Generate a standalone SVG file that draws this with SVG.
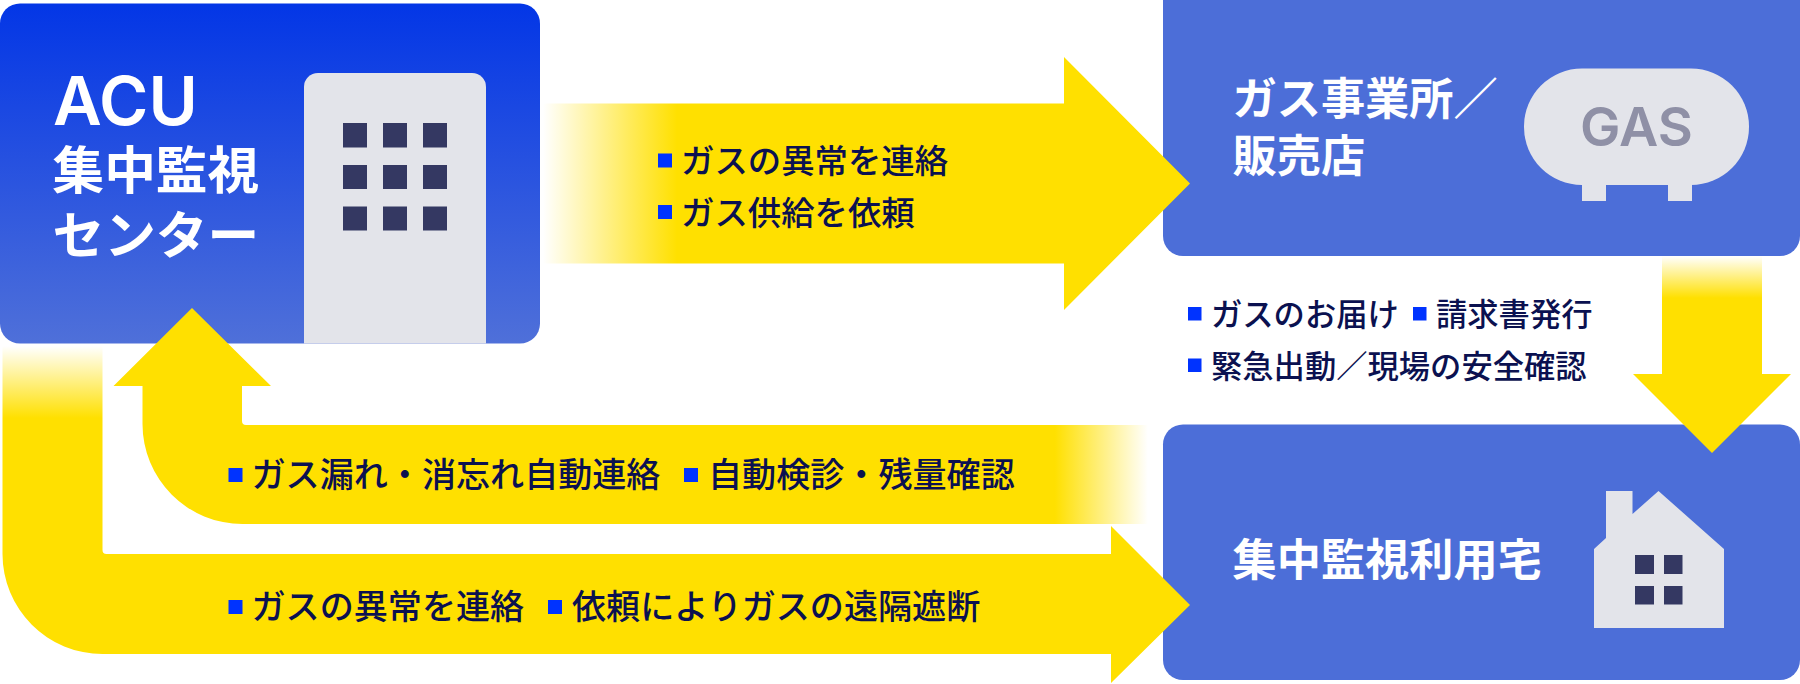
<svg xmlns="http://www.w3.org/2000/svg" width="1800" height="684" viewBox="0 0 1800 684">
<style>
.box{fill:#4c6ed8}
.lg{fill:#e3e4ea}
.win{fill:#343862}
.b{fill:#0033ff}
text{font-family:"Noto Sans CJK JP","Liberation Sans",sans-serif}
.t{fill:#fff;font-weight:700;font-size:44.200px}
.l{fill:#0b1150;font-weight:500;font-size:31.300px}
.m{fill:#0b1150;font-weight:500;font-size:33.400px}
.n{fill:#0b1150;font-weight:500;font-size:34.100px}
</style>
<defs>
<linearGradient id="acu" x1="0" y1="0" x2="0" y2="1"><stop offset="0" stop-color="#0336e6"/><stop offset="1" stop-color="#4f70d9"/></linearGradient>
<linearGradient id="fr" gradientUnits="userSpaceOnUse" x1="543" y1="0" x2="677" y2="0"><stop offset="0" stop-color="#ffe000" stop-opacity="0"/><stop offset="1" stop-color="#ffe000"/></linearGradient>
<linearGradient id="fd" gradientUnits="userSpaceOnUse" x1="0" y1="256" x2="0" y2="298"><stop offset="0" stop-color="#ffe000" stop-opacity="0"/><stop offset="1" stop-color="#ffe000"/></linearGradient>
<linearGradient id="fl" gradientUnits="userSpaceOnUse" x1="1148" y1="0" x2="1055" y2="0"><stop offset="0" stop-color="#ffe000" stop-opacity="0"/><stop offset="1" stop-color="#ffe000"/></linearGradient>
<linearGradient id="fu" gradientUnits="userSpaceOnUse" x1="0" y1="346" x2="0" y2="418"><stop offset="0" stop-color="#ffe000" stop-opacity="0"/><stop offset="1" stop-color="#ffe000"/></linearGradient>
</defs>
<g id="node-acu">
<rect x="0" y="3.500" width="540" height="340" rx="20" fill="url(#acu)"/>
<path class="lg" d="M304 343.500V87a14 14 0 0 1 14-14H472a14 14 0 0 1 14 14V343.500Z"/>
<g class="win"><rect x="343" y="123" width="24" height="24.500"/><rect x="383" y="123" width="24" height="24.500"/><rect x="423" y="123" width="24" height="24.500"/><rect x="343" y="165" width="24" height="24"/><rect x="383" y="165" width="24" height="24"/><rect x="423" y="165" width="24" height="24"/><rect x="343" y="206.500" width="24" height="24"/><rect x="383" y="206.500" width="24" height="24"/><rect x="423" y="206.500" width="24" height="24"/></g>
<text x="53" y="124.500" fill="#fff" font-weight="600" style="font-family:Inter,'Liberation Sans',sans-serif;font-size:67px">ACU</text>
<text x="52.500" y="189" fill="#fff" font-weight="700" font-size="51.700">集中監視</text>
<text x="52.500" y="254" fill="#fff" font-weight="700" font-size="51.700">センター</text>
</g>
<g id="node-gas">
<rect x="1163" y="-20" width="637" height="276" rx="20" class="box"/>
<rect x="1582" y="184" width="24" height="17" class="lg"/><rect x="1668" y="184" width="24" height="17" class="lg"/>
<rect x="1524" y="68.500" width="225" height="116.500" rx="58" ry="58" class="lg"/>
<text x="1636.500" y="145.500" text-anchor="middle" fill="#8f90a6" font-weight="600" font-size="54" style="font-family:Inter,'Liberation Sans',sans-serif">GAS</text>
<text x="1232.500" y="115" class="t">ガス事業所／</text>
<text x="1232.500" y="172" class="t">販売店</text>
</g>
<g id="node-home">
<rect x="1163" y="424.500" width="637" height="255.500" rx="20" class="box"/>
<path class="lg" d="M1594 628V549L1606 538V491H1632.500V514L1658.500 491L1724 549V628Z"/>
<g class="win"><rect x="1635" y="555" width="19" height="19"/><rect x="1664" y="555" width="18.500" height="19"/><rect x="1635" y="586" width="19" height="18.500"/><rect x="1664" y="586" width="18.500" height="18.500"/></g>
<text x="1232.500" y="576" class="t">集中監視利用宅</text>
</g>
<g id="connectors">
<path fill="url(#fr)" d="M543 103.500H1064V57L1190 183.500L1064 310V263.500H543Z"/>
<path fill="url(#fd)" d="M1662 256H1762V374H1791L1712 453L1633 374H1662Z"/>
<path fill="url(#fl)" d="M1148 425H246a4 4 0 0 1-4-4V386H271L192 308L113.500 386H142.500V424A100 100 0 0 0 242.500 524H1148Z"/>
<path fill="url(#fu)" d="M2.500 346H102.500V550a4 4 0 0 0 4 4H1111V526L1190 605L1111 683V654H102.500A100 100 0 0 1 2.500 554Z"/>
</g>
<g id="labels">
<rect class="b" x="658" y="153.500" width="14" height="14"/><text x="681" y="173" class="m">ガスの異常を連絡</text>
<rect class="b" x="658" y="205" width="14" height="14"/><text x="681" y="225" class="m">ガス供給を依頼</text>
<rect class="b" x="1188" y="307" width="13.500" height="13.500"/><text x="1211" y="326" class="l">ガスのお届け</text>
<rect class="b" x="1413" y="307" width="13.500" height="13.500"/><text x="1436" y="326" class="l">請求書発行</text>
<rect class="b" x="1188" y="358.500" width="13.500" height="13.500"/><text x="1211" y="378" class="l">緊急出動／現場の安全確認</text>
<rect class="b" x="228.500" y="468" width="14" height="14"/><text x="251.500" y="487" class="n">ガス漏れ・消忘れ自動連絡</text>
<rect class="b" x="684" y="468" width="14" height="14"/><text x="708" y="487" class="n">自動検診・残量確認</text>
<rect class="b" x="228.500" y="600" width="14" height="14"/><text x="251.500" y="619" class="n">ガスの異常を連絡</text>
<rect class="b" x="548" y="600" width="14" height="14"/><text x="572" y="619" class="n">依頼によりガスの遠隔遮断</text>
</g>
</svg>
